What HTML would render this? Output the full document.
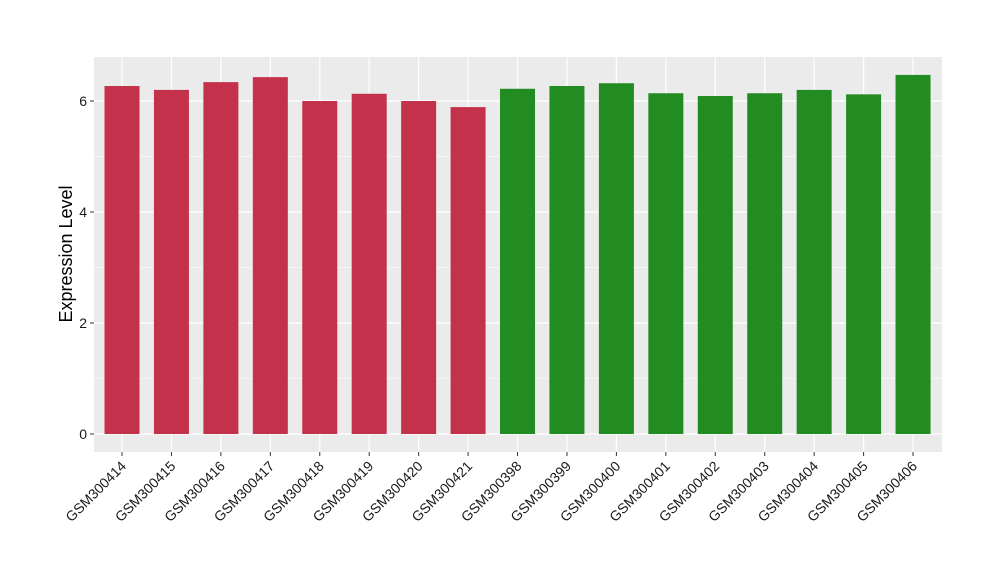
<!DOCTYPE html>
<html><head><meta charset="utf-8"><style>
body{margin:0;background:#fff;font-family:"Liberation Sans",Arial,sans-serif}
</style></head><body>
<svg id="chart" width="1000" height="580" xmlns="http://www.w3.org/2000/svg">
<rect x="94" y="57" width="848" height="395" fill="#ebebeb"/>
<g id="grid"></g><g id="bars"></g><g id="axes"></g>
<text transform="translate(72,254) rotate(-90)" text-anchor="middle" font-size="18" fill="#000">Expression Level</text>
</svg>
<script>
const categories=["GSM300414","GSM300415","GSM300416","GSM300417","GSM300418","GSM300419","GSM300420","GSM300421","GSM300398","GSM300399","GSM300400","GSM300401","GSM300402","GSM300403","GSM300404","GSM300405","GSM300406"];
const values=[6.27,6.2,6.34,6.43,6.0,6.13,6.0,5.89,6.22,6.27,6.32,6.14,6.09,6.14,6.2,6.12,6.47];
const groups=["a","a","a","a","a","a","a","a","b","b","b","b","b","b","b","b","b"];
const yTicks=[0,2,4,6];
const colors={a:"#c3314a",b:"#228b22"};
const NS="http://www.w3.org/2000/svg";
const y0=434,pxPerUnit=55.5;
function yScale(v){return y0-v*pxPerUnit;}
function xScale(i){return 122+i*49.44;}
function mk(t,a,p){const e=document.createElementNS(NS,t);for(const k in a)e.setAttribute(k,a[k]);p.appendChild(e);return e;}
const grid=document.getElementById('grid'),bars=document.getElementById('bars'),axes=document.getElementById('axes');
for(let i=0;i<yTicks.length-1;i++){const m=(yTicks[i]+yTicks[i+1])/2;
 const l=mk('line',{x1:94,x2:942,y1:yScale(m),y2:yScale(m),stroke:'#fff','stroke-width':0.6},grid);
 
 }
yTicks.forEach(t=>{const y=yScale(t);
 const l=mk('line',{x1:94,x2:942,y1:y,y2:y,stroke:'#fff','stroke-width':1.2},grid);
 
 
 mk('line',{x1:90,x2:94,y1:y,y2:y,stroke:'#333'},axes);
 const tx=mk('text',{x:87,y:y+5,'text-anchor':'end','font-size':14,fill:'#1a1a1a'},axes);tx.textContent=t;
 
 });
categories.forEach((c,i)=>{const x=xScale(i);
 const g=mk('line',{x1:x,x2:x,y1:57,y2:452,stroke:'#fff','stroke-width':1.2},grid);
 
 
 const r=mk('rect',{x:x-17.5,y:yScale(values[i]),width:35,height:y0-yScale(values[i]),fill:colors[groups[i]]},bars);
 
 
 mk('line',{x1:x,x2:x,y1:452,y2:456,stroke:'#333'},axes);
 const t=mk('text',{transform:`translate(${x+5},${467}) rotate(-45)`,'text-anchor':'end','font-size':14,fill:'#1a1a1a'},axes);
 t.textContent=c;
 
 });
</script>
</body></html>
